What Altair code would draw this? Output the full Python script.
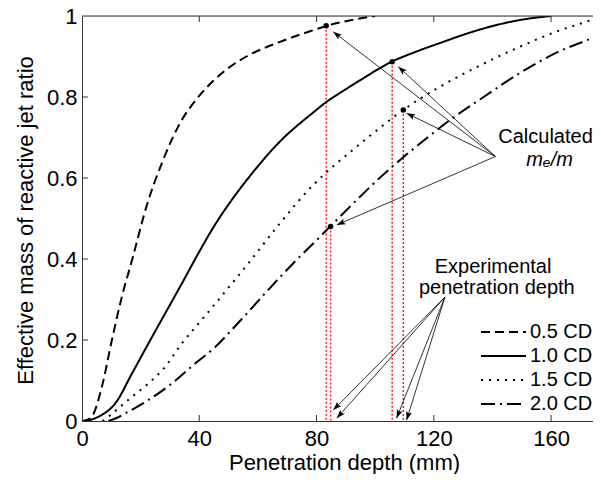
import math
import altair as alt
import pandas as pd

# ---------------- data ----------------
series = ["0.5 CD", "1.0 CD", "1.5 CD", "2.0 CD"]

x05 = [0, 1.5, 3.4, 6.8, 10.2, 13.6, 17.1, 22, 27.7, 33.4, 39.1, 44.8, 50, 56.1, 67.5, 78.9, 84, 92, 100]
y05 = [0, 0.002, 0.011, 0.085, 0.2, 0.307, 0.398, 0.53, 0.645, 0.735, 0.795, 0.84, 0.872, 0.90, 0.936, 0.965, 0.977, 0.99, 1.0]

x10 = [0, 3, 5.7, 11.4, 17.1, 22.7, 28.4, 34.1, 39, 44.8, 50.5, 56.2, 67.5, 78.9, 83.4, 88, 95, 105.6, 114, 122, 135, 149.3, 160]
y10 = [0, 0.003, 0.011, 0.044, 0.118, 0.192, 0.266, 0.34, 0.405, 0.478, 0.54, 0.595, 0.69, 0.762, 0.788, 0.81, 0.842, 0.887, 0.912, 0.933, 0.965, 0.99, 1.0]

x15 = [7, 9.1, 13, 17.1, 22.7, 28.4, 34.1, 39.8, 45.5, 51.2, 56.5, 67.5, 78.9, 84.6, 90.8, 97, 109.6, 122, 135, 149.3, 162, 175, 177]
y15 = [0, 0.011, 0.035, 0.06, 0.093, 0.134, 0.192, 0.241, 0.29, 0.34, 0.387, 0.488, 0.583, 0.622, 0.66, 0.697, 0.768, 0.825, 0.875, 0.924, 0.962, 0.994, 1.0]

x20 = [9, 12, 14.8, 22.7, 30.7, 38.6, 45.5, 51.2, 56.8, 61.8, 67.5, 73.2, 81.2, 84.6, 92.5, 100, 108.4, 117, 125.5, 137, 149.3, 162, 175, 177]
y20 = [0, 0.008, 0.019, 0.052, 0.093, 0.142, 0.183, 0.226, 0.27, 0.31, 0.355, 0.398, 0.455, 0.48, 0.537, 0.59, 0.644, 0.695, 0.743, 0.80, 0.859, 0.91, 0.949, 0.956]

# experimental penetration depth (mm) and calculated me/m for each series
exp_depth = [83.3, 105.8, 109.6, 84.8]
calc_ratio = [0.976, 0.887, 0.768, 0.48]

# annotation arrows
calc_origin = (141.0, 0.653)
calc_tips_x = [85.7, 107.9, 110.7, 86.9]
calc_tips_y = [0.961, 0.875, 0.760, 0.484]
exp_origin = (123.8, 0.306)
exp_tips_x = [85.7, 86.9, 107.3, 110.7]
exp_tips_y = [0.027, 0.007, 0.007, 0.002]

x_ticks = [0, 40, 80, 120, 160]
y_ticks = [0, 0.2, 0.4, 0.6, 0.8, 1.0]

# ---------------- layout ----------------
W, H = 511, 405
XMAX = 174.3
FONT = "Liberation Sans"
AX = "#333333"

xs = alt.Scale(domain=[0, XMAX], nice=False, zero=False)
ys = alt.Scale(domain=[0, 1], nice=False)

x_axis = alt.Axis(values=x_ticks, ticks=False, grid=False, domainColor=AX, labelColor="black",
                  labelFont=FONT, labelFontSize=22, labelPadding=7, labelFlush=False,
                  title="Penetration depth (mm)", titleFont=FONT, titleFontSize=22,
                  titleFontWeight="normal", titleColor="black", titleX=262, titleY=48,
                  titleBaseline="alphabetic", titleAlign="center")
y_axis = alt.Axis(values=y_ticks, format="~g", ticks=False, grid=False, domainColor=AX,
                  labelColor="black", labelFont=FONT, labelFontSize=22, labelPadding=5,
                  labelFlush=False, title="Effective mass of reactive jet ratio",
                  titleFont=FONT, titleFontSize=22, titleFontWeight="normal", titleColor="black",
                  titleX=-50, titleY=204, titleAngle=270, titleBaseline="alphabetic",
                  titleAlign="center")


def X(f):
    return alt.X(f, scale=xs, axis=x_axis)


def Y(f):
    return alt.Y(f, scale=ys, axis=y_axis)


dash_range = [[9, 5], [1, 0], [2, 6], [14, 5, 2, 5]]

rows = []
for s, xv, yv in zip(series, [x05, x10, x15, x20], [y05, y10, y15, y20]):
    for i, (a, b) in enumerate(zip(xv, yv)):
        rows.append({"x": a, "y": b, "series": s, "i": i})
curves = pd.DataFrame(rows)

lines = alt.Chart(curves).mark_line(color="black", strokeWidth=2, clip=True,
                                    interpolate="monotone").encode(
    x=X("x:Q"), y=Y("y:Q"),
    strokeDash=alt.StrokeDash("series:N", scale=alt.Scale(domain=series, range=dash_range), legend=None),
    order="i:Q",
)

exp_df = pd.DataFrame({"x": exp_depth, "y": calc_ratio, "y0": [0] * 4, "series": series})
red = alt.Chart(exp_df).mark_rule(color="#ff2020", strokeWidth=1.5, strokeDash=[2, 2]).encode(
    x=X("x:Q"), y=Y("y:Q"), y2="y0:Q"
)
dots = alt.Chart(exp_df).mark_point(filled=True, size=30, color="black", opacity=1).encode(
    x=X("x:Q"), y=Y("y:Q")
)

sx, sy = W / XMAX, H


def arrows(origin, tx, ty):
    out = []
    for a, b in zip(tx, ty):
        dx = (a - origin[0]) * sx
        dy = -(b - origin[1]) * sy
        ang = math.degrees(math.atan2(dx, -dy)) % 360
        out.append({"x": origin[0], "y": origin[1], "x2": a, "y2": b, "ang": ang})
    return out


arr_df = pd.DataFrame(arrows(calc_origin, calc_tips_x, calc_tips_y) +
                      arrows(exp_origin, exp_tips_x, exp_tips_y))
arr_lines = alt.Chart(arr_df).mark_rule(color="black", strokeWidth=0.8).encode(
    x=X("x:Q"), y=Y("y:Q"), x2="x2:Q", y2="y2:Q"
)
arr_heads = alt.Chart(arr_df).mark_point(
    shape="M0,0L-0.35,1L0,0.8L0.35,1Z", filled=True, size=300, color="black", opacity=1
).encode(x=X("x2:Q"), y=Y("y2:Q"), angle=alt.Angle("ang:Q", scale=None))

labels_df = pd.DataFrame({
    "x": [158.1, 140.2, 141.5],
    "y": [0.701, 0.380, 0.328],
    "t": ["Calculated", "Experimental", "penetration depth"],
})
labels = alt.Chart(labels_df).mark_text(font=FONT, fontSize=20, color="black", align="center",
                                        baseline="middle").encode(x=X("x:Q"), y=Y("y:Q"), text="t:N")
me_df = pd.DataFrame({"x": [159.5], "y": [0.644], "t": ["m\u2091/m"]})
me_label = alt.Chart(me_df).mark_text(font=FONT, fontSize=20, fontStyle="italic", color="black",
                                      align="center", baseline="middle").encode(
    x=X("x:Q"), y=Y("y:Q"), text="t:N")

# frame: top border and inward ticks
top_df = pd.DataFrame({"y": [1.0]})
top = alt.Chart(top_df).mark_rule(color=AX, strokeWidth=1).encode(
    y=Y("y:Q"), x=alt.value(0), x2=alt.value(W))
xt_df = pd.DataFrame({"x": x_ticks[1:]})
xt_bottom = alt.Chart(xt_df).mark_rule(color=AX).encode(x=X("x:Q"), y=alt.value(H), y2=alt.value(H - 6))
xt_top = alt.Chart(xt_df).mark_rule(color=AX).encode(x=X("x:Q"), y=alt.value(0), y2=alt.value(6))
yt_df = pd.DataFrame({"y": y_ticks[1:-1]})
yt_left = alt.Chart(yt_df).mark_rule(color=AX).encode(y=Y("y:Q"), x=alt.value(0), x2=alt.value(6))

# manual legend
leg_layers = []
leg_rows_y = [316, 340, 364, 388]
for s, d, ly in zip(series, dash_range, leg_rows_y):
    ldf = pd.DataFrame({"s": [s]})
    leg_layers.append(alt.Chart(ldf).mark_rule(color="black", strokeWidth=2, strokeDash=d).encode(
        x=alt.value(399), x2=alt.value(444), y=alt.value(ly)))
    leg_layers.append(alt.Chart(ldf).mark_text(font=FONT, fontSize=20, color="black", align="left",
                                               baseline="middle").encode(
        x=alt.value(448), y=alt.value(ly), text="s:N"))

chart = alt.layer(
    red, lines, arr_lines, arr_heads, dots, labels, me_label, top, xt_bottom, xt_top, yt_left,
    *leg_layers
).properties(
    width=W, height=H,
    autosize=alt.AutoSizeParams(type="none"),
    padding={"left": 74, "top": 8, "right": 0, "bottom": 53},
).configure_view(stroke=None).configure(background="white")

chart.save("out.html", embed_options={"renderer": "svg", "actions": False})
